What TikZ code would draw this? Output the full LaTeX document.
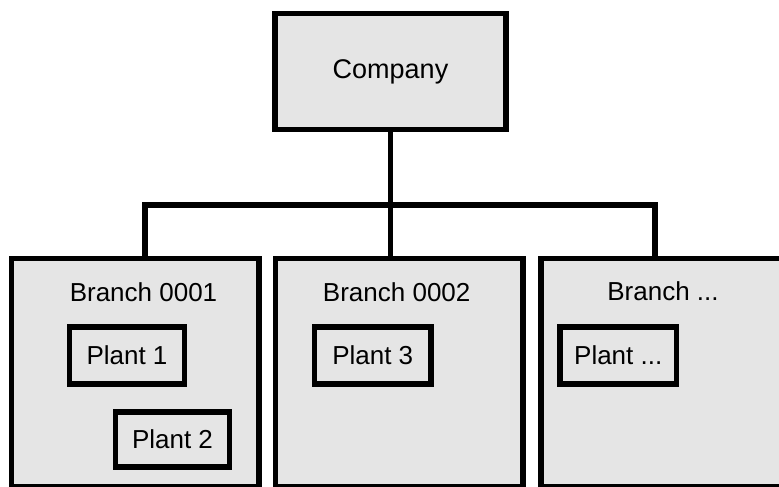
\documentclass[tikz,border=0pt]{standalone}
\usepackage{fontspec}
\setmainfont{Liberation Sans}
\definecolor{boxgray}{RGB}{229,229,229}
\tikzset{
  orgbox/.style={draw=black, fill=boxgray, line width=5.5pt, rectangle, inner sep=0pt},
  plantbox/.style={orgbox, minimum width=115pt, minimum height=57pt, lbl},
  lbl/.style={font=\fontsize{26}{31}\selectfont},
  bar/.style={line width=5.5pt, line join=miter}
}

\begin{document}
\begin{tikzpicture}[x=1pt,y=-1pt]
		\useasboundingbox (0,0) rectangle (779,487);
		\clip (0,0) rectangle (779,487);
		%%%%% COMPANY %%%%%
		\node[orgbox, minimum width=231pt, minimum height=116pt, font=\fontsize{27}{32}\selectfont] (company) at (390.5,71.5) {Company};
		
		%%%%% BRANCHES %%%%%
		\node[orgbox, minimum width=247.7pt, minimum height=228.3pt] (br1) at (135.15,372.85) {};
		\node[orgbox, minimum width=247.7pt, minimum height=228.3pt] (br2) at (399.15,372.85) {};
		\node[orgbox, minimum width=244pt, minimum height=228.3pt] (br3) at (663,372.85) {};
		
		\node[lbl, anchor=base] (lbr1) at (143.5,301) {Branch 0001};
		\node[lbl, anchor=base] (lbr2) at (396.7,301) {Branch 0002};
		\node[lbl, anchor=base] (lbr3) at (663,300) {Branch ...};
		
		%%%%% PLANTS %%%%%
		\node[plantbox] (pl1) at (127,355.5) {Plant 1};
		\node[plantbox, minimum width=114pt, minimum height=55pt] (pl2) at (172.5,439.5) {Plant 2};
		\node[plantbox, minimum width=116.5pt] (pl3) at (372.75,355.5) {Plant 3};
		\node[plantbox, minimum width=116.5pt] (pl4) at (618.25,355.5) {Plant ...};
		
		%%%%% CONNECTORS %%%%%
		\coordinate (jl) at (145,205);
		\coordinate (jm) at (390.5,205);
		\coordinate (jr) at (655,205);
		\draw[bar] (company.south) -- (jm);
		\draw[bar] (jl |- br1.north) -- (jl) -- (jr) -- (jr |- br3.north);
		\draw[bar] (jm) -- (jm |- br2.north);
	\end{tikzpicture}
\end{document}
